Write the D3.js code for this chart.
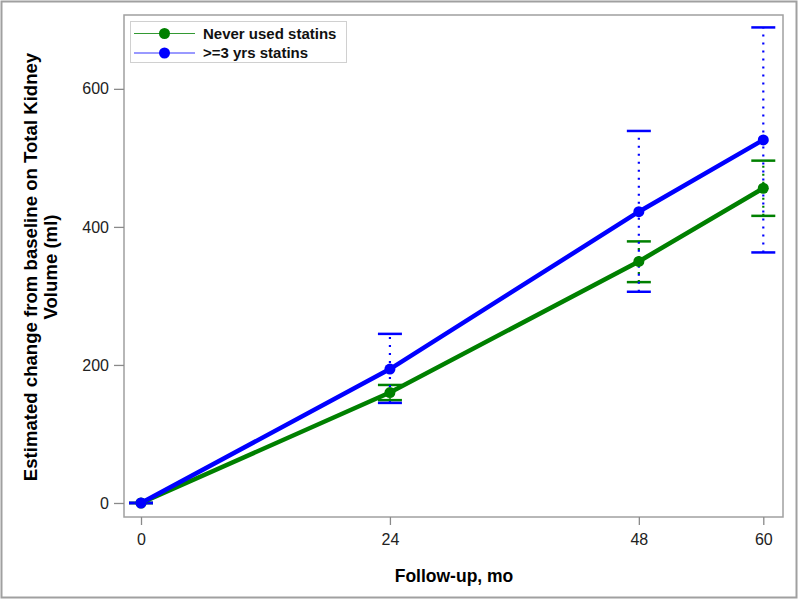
<!DOCTYPE html>
<html>
<head>
<meta charset="utf-8">
<script src="https://cdn.jsdelivr.net/npm/d3@7"></script>
<style>
  body { margin: 0; background: #fff; }
  svg { font-family: Arial, "Liberation Sans", sans-serif; }
</style>
</head>
<body>
<script>
// follow-up times (months)
const months = [0, 24, 48, 60];
const xTicks = [0, 24, 48, 60];
const yTicks = [0, 200, 400, 600];

// never used statins
const neverMean = [0, 160, 350, 456];
const neverLow = [0, 149, 320, 416];
const neverHigh = [0, 171, 379, 496];

// >=3 yrs statins
const statMean = [0, 194, 422, 526];
const statLow = [0, 145, 306, 363];
const statHigh = [0, 245, 539, 689];

const seriesNames = ["Never used statins", ">=3 yrs statins"];
const colors = ["#008000", "#0000ff"];

const W = 800, H = 601;
const frame = {left: 124, top: 15, right: 783, bottom: 517};

var svg = d3.select("body").append("svg")
  .attr("width", W)
  .attr("height", H);

// outer border
svg.append("rect")
  .attr("x", 1.5).attr("y", 1.5)
  .attr("width", 795).attr("height", 596)
  .attr("fill", "none").attr("stroke", "#a0a0a0").attr("stroke-width", 2);

var xScale = d3.scaleLinear().domain([-1.64, 61.9]).range([frame.left, frame.right]);
var yScale = d3.scaleLinear().domain([-20.3, 707]).range([frame.bottom, frame.top]);

// plot frame
svg.append("rect")
  .attr("x", frame.left).attr("y", frame.top)
  .attr("width", frame.right - frame.left).attr("height", frame.bottom - frame.top)
  .attr("fill", "none").attr("stroke", "#a0a0a0").attr("stroke-width", 1.5);

// axes
var xAxis = d3.axisBottom(xScale).tickValues(xTicks).tickSize(8).tickPadding(9).tickFormat(d3.format("d"));
var yAxis = d3.axisLeft(yScale).tickValues(yTicks).tickSize(10).tickPadding(5).tickFormat(d3.format("d"));

var gx = svg.append("g")
  .attr("transform", "translate(0," + frame.bottom + ")")
  .call(xAxis);
var gy = svg.append("g")
  .attr("transform", "translate(" + frame.left + ",0)")
  .call(yAxis);

[gx, gy].forEach(function(g){
  g.select(".domain").remove();
  g.selectAll(".tick line").attr("stroke", "#8a8a8a").attr("stroke-width", 1.3);
  g.selectAll(".tick text").attr("font-size", 16).attr("fill", "#222");
});

// axis titles
svg.append("text")
  .attr("x", 454)
  .attr("y", 582)
  .attr("text-anchor", "middle")
  .attr("font-size", 17.5).attr("font-weight", "bold")
  .text("Follow-up, mo");

var yt = svg.append("text")
  .attr("transform", "translate(0,267) rotate(-90)")
  .attr("text-anchor", "middle")
  .attr("font-size", 18.6).attr("font-weight", "bold");
yt.append("tspan").attr("x", 0).attr("y", 37).text("Estimated change from baseline on Total Kidney");
yt.append("tspan").attr("x", 0).attr("y", 57).text("Volume (ml)");

var data = [
  {name: seriesNames[0], color: colors[0], mean: neverMean, low: neverLow, high: neverHigh},
  {name: seriesNames[1], color: colors[1], mean: statMean, low: statLow, high: statHigh}
];

var line = d3.line()
  .x(function(d){ return xScale(d[0]); })
  .y(function(d){ return yScale(d[1]); });

var capHalf = 12;

// error bars (drawn first, blue over green)
data.forEach(function(s){
  var g = svg.append("g");
  months.forEach(function(m, i){
    g.append("line")
      .attr("x1", xScale(m)).attr("x2", xScale(m))
      .attr("y1", yScale(s.low[i])).attr("y2", yScale(s.high[i]))
      .attr("stroke", s.color).attr("stroke-width", 2.2)
      .attr("stroke-dasharray", "2,6");
    [s.low[i], s.high[i]].forEach(function(v){
      g.append("line")
        .attr("x1", xScale(m) - capHalf).attr("x2", xScale(m) + capHalf)
        .attr("y1", yScale(v)).attr("y2", yScale(v))
        .attr("stroke", s.color).attr("stroke-width", 2.5);
    });
  });
});

// lines and markers
data.forEach(function(s){
  var pts = months.map(function(m, i){ return [m, s.mean[i]]; });
  svg.append("path")
    .datum(pts)
    .attr("d", line)
    .attr("fill", "none")
    .attr("stroke", s.color)
    .attr("stroke-width", 4.5);
  svg.selectAll(null)
    .data(pts)
    .enter().append("circle")
    .attr("cx", function(d){ return xScale(d[0]); })
    .attr("cy", function(d){ return yScale(d[1]); })
    .attr("r", 5.5)
    .attr("fill", s.color);
});

// legend
var legend = svg.append("g");
legend.append("rect")
  .attr("x", 130.5).attr("y", 21.5)
  .attr("width", 216).attr("height", 41)
  .attr("fill", "#fff").attr("stroke", "#d0d0d0");

var items = legend.selectAll("g.item")
  .data(data)
  .enter().append("g")
  .attr("class", "item")
  .attr("transform", function(d, i){ return "translate(0," + (33.5 + i * 19.5) + ")"; });

items.append("line")
  .attr("x1", 134).attr("x2", 195)
  .attr("stroke", function(d){ return d.color; })
  .attr("stroke-width", 1)
  .attr("stroke-opacity", 0.8);
items.append("circle")
  .attr("cx", 164.5).attr("r", 5.5)
  .attr("fill", function(d){ return d.color; });
items.append("text")
  .attr("x", 203).attr("dy", "0.36em")
  .attr("font-size", 15).attr("font-weight", "bold")
  .attr("fill", "#111")
  .text(function(d){ return d.name; });
</script>
</body>
</html>
